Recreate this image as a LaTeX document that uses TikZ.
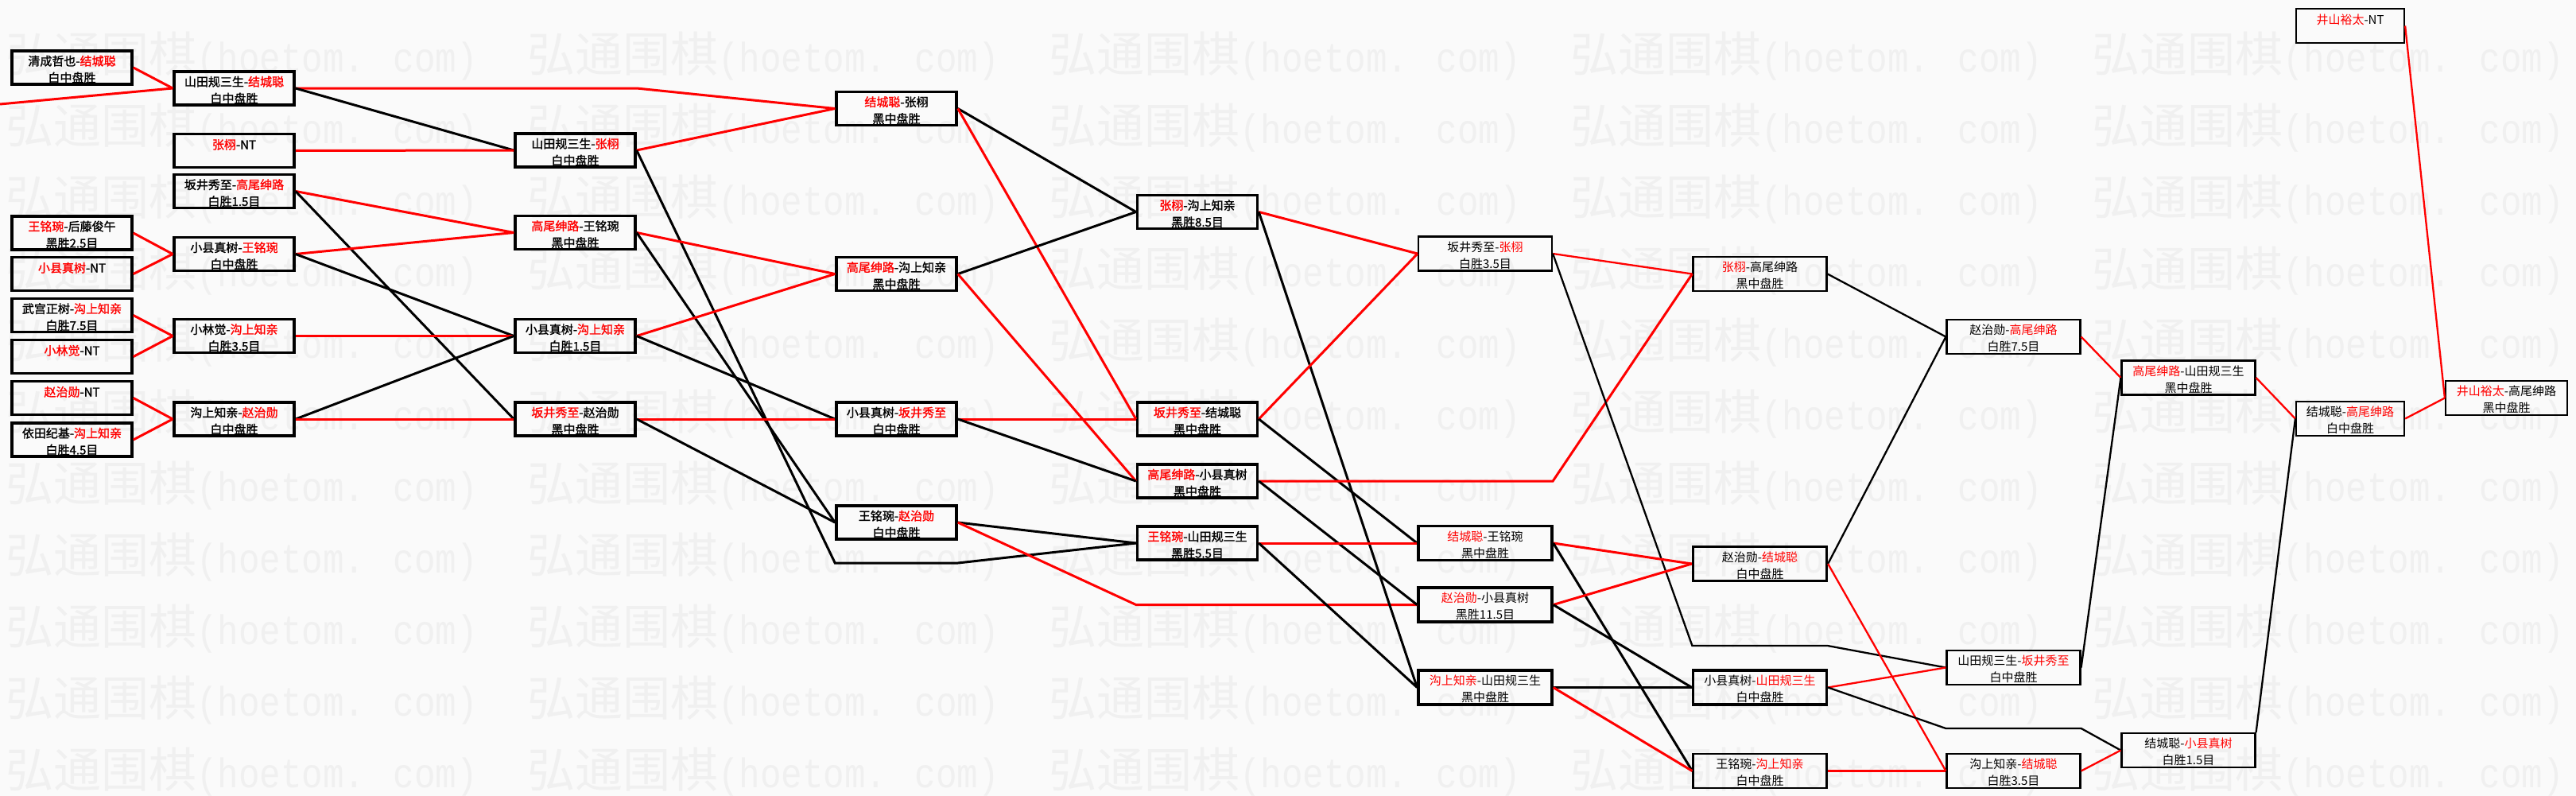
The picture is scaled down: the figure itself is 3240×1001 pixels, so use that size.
\documentclass[tikz,border=0pt]{standalone}
\usepackage{fontspec}
\setmainfont{Noto Sans CJK SC}
\newfontfamily\cjkbold[FakeBold=1.5]{Noto Sans CJK SC}
\newfontfamily\wmlatin[FakeStretch=0.85]{Liberation Mono}
\definecolor{bg}{HTML}{FAFAFA}
\definecolor{wmark}{HTML}{F0F0F0}
\newcommand{\wname}[1]{\textcolor{red}{#1}}
\newcommand{\mt}[2]{\rule{0pt}{17pt}#1\\#2}

\begin{document}
\begin{tikzpicture}[
  x=1pt, y=-1pt,
  box/.style={rectangle, draw, line width=3.5pt, align=center, inner sep=0pt, minimum width=151pt, minimum height=42pt, font=\cjkbold\fontsize{15}{21}\selectfont},
  lbox/.style={rectangle, draw, line width=2.2pt, align=center, inner sep=0pt, minimum width=168pt, minimum height=43pt, font=\fontsize{15}{21}\selectfont},
  win/.style={draw=red, line width=3pt},
  lose/.style={draw=black, line width=3pt},
  thin/.style={line width=2.3pt},
  wm/.style={anchor=base west, inner sep=0pt, text=wmark}
]
\useasboundingbox (0,0) rectangle (3240,1001);
\fill[bg] (0,0) rectangle (3240,1001);
\begin{scope}
\clip (0,0) rectangle (3240,1001);
\foreach \r in {0,...,10}
  \foreach \c in {0,...,4}
    \node[wm] (wm-\r-\c) at (7+656*\c, 90+90*\r) {\fontsize{60}{60}\selectfont 弘通围棋\wmlatin\fontsize{52}{52}\selectfont(hoetom. com)};
\end{scope}

\node[box] (c0a) at (90.5,85) {\mt{清成哲也-\wname{结城聪}}{白中盘胜}};
\node[box] (c0b) at (90.5,293) {\mt{\wname{王铭琬}-后藤俊午}{黑胜2.5目}};
\node[box] (c0c) at (90.5,344.5) {\mt{\wname{小县真树}-NT}{\mbox{}}};
\node[box] (c0d) at (90.5,396.5) {\mt{武宫正树-\wname{沟上知亲}}{白胜7.5目}};
\node[box] (c0e) at (90.5,448.5) {\mt{\wname{小林觉}-NT}{\mbox{}}};
\node[box] (c0f) at (90.5,500.5) {\mt{\wname{赵治勋}-NT}{\mbox{}}};
\node[box] (c0g) at (90.5,553) {\mt{依田纪基-\wname{沟上知亲}}{白胜4.5目}};

\node[box] (c1a) at (294.5,111) {\mt{山田规三生-\wname{结城聪}}{白中盘胜}};
\node[box] (c1b) at (294.5,189.5) {\mt{\wname{张栩}-NT}{\mbox{}}};
\node[box] (c1c) at (294.5,240.5) {\mt{坂井秀至-\wname{高尾绅路}}{白胜1.5目}};
\node[box] (c1d) at (294.5,319.5) {\mt{小县真树-\wname{王铭琬}}{白中盘胜}};
\node[box] (c1e) at (294.5,422.5) {\mt{小林觉-\wname{沟上知亲}}{白胜3.5目}};
\node[box] (c1f) at (294.5,527) {\mt{沟上知亲-\wname{赵治勋}}{白中盘胜}};

\node[box] (c2a) at (723.5,189) {\mt{山田规三生-\wname{张栩}}{白中盘胜}};
\node[box] (c2b) at (723.5,292.5) {\mt{\wname{高尾绅路}-王铭琬}{黑中盘胜}};
\node[box] (c2c) at (723.5,422.5) {\mt{小县真树-\wname{沟上知亲}}{白胜1.5目}};
\node[box] (c2d) at (723.5,527) {\mt{\wname{坂井秀至}-赵治勋}{黑中盘胜}};

\node[box] (c3a) at (1127.5,136.5) {\mt{\wname{结城聪}-张栩}{黑中盘胜}};
\node[box] (c3b) at (1127.5,344.5) {\mt{\wname{高尾绅路}-沟上知亲}{黑中盘胜}};
\node[box] (c3c) at (1127.5,527) {\mt{小县真树-\wname{坂井秀至}}{白中盘胜}};
\node[box] (c3d) at (1127.5,657) {\mt{王铭琬-\wname{赵治勋}}{白中盘胜}};

\node[box] (c4a) at (1506,266.5) {\mt{\wname{张栩}-沟上知亲}{黑胜8.5目}};
\node[box] (c4b) at (1506,527) {\mt{\wname{坂井秀至}-结城聪}{黑中盘胜}};
\node[box] (c4c) at (1506,605) {\mt{\wname{高尾绅路}-小县真树}{黑中盘胜}};
\node[box] (c4d) at (1506,683) {\mt{\wname{王铭琬}-山田规三生}{黑胜5.5目}};

\node[lbox] (c5a) at (1868,319) {\mt{坂井秀至-\wname{张栩}}{白胜3.5目}};
\node[lbox, line width=3.3pt] (c5b) at (1868,683) {\mt{\wname{结城聪}-王铭琬}{黑中盘胜}};
\node[lbox, line width=3.3pt] (c5c) at (1868,760.5) {\mt{\wname{赵治勋}-小县真树}{黑胜11.5目}};
\node[lbox, line width=3.3pt] (c5d) at (1868,864.5) {\mt{\wname{沟上知亲}-山田规三生}{黑中盘胜}};

\node[lbox] (c6a) at (2213.5,344.5) {\mt{\wname{张栩}-高尾绅路}{黑中盘胜}};
\node[lbox, line width=3.3pt] (c6b) at (2213.5,709) {\mt{赵治勋-\wname{结城聪}}{白中盘胜}};
\node[lbox, line width=3.3pt] (c6c) at (2213.5,864.5) {\mt{小县真树-\wname{山田规三生}}{白中盘胜}};
\node[lbox] (c6d) at (2213.5,969.5) {\mt{王铭琬-\wname{沟上知亲}}{白中盘胜}};

\node[lbox] (c7a) at (2532.5,423.5) {\mt{赵治勋-\wname{高尾绅路}}{白胜7.5目}};
\node[lbox] (c7b) at (2532.5,839.5) {\mt{山田规三生-\wname{坂井秀至}}{白中盘胜}};
\node[lbox] (c7c) at (2532.5,969.5) {\mt{沟上知亲-\wname{结城聪}}{白胜3.5目}};

\node[lbox] (c8a) at (2752.5,475) {\mt{\wname{高尾绅路}-山田规三生}{黑中盘胜}};
\node[lbox] (c8b) at (2752.5,943.5) {\mt{结城聪-\wname{小县真树}}{白胜1.5目}};

\node[lbox, minimum width=136pt] (c9a) at (2956,32.5) {\mt{\wname{井山裕太}-NT}{\mbox{}}};
\node[lbox, minimum width=136pt] (c9b) at (2956,526.5) {\mt{结城聪-\wname{高尾绅路}}{白中盘胜}};

\node[lbox, minimum width=153pt] (c10) at (3152.5,500.5) {\mt{\wname{井山裕太}-高尾绅路}{黑中盘胜}};

\coordinate (entry) at (0,131);
\draw[win] (c0a.east) -- (c1a.west);
\draw[win] (entry) -- (c1a.west);
\draw[win] (c0b.east) -- (c1d.west);
\draw[win] (c0c.east) -- (c1d.west);
\draw[win] (c0d.east) -- (c1e.west);
\draw[win] (c0e.east) -- (c1e.west);
\draw[win] (c0f.east) -- (c1f.west);
\draw[win] (c0g.east) -- (c1f.west);

\draw[win] (c1a.east) -- (c2a.east |- c1a.east) -- (c3a.west);
\draw[lose] (c1a.east) -- (c2a.west);
\draw[win] (c1b.east) -- (c2a.west);
\draw[win] (c1c.east) -- (c2b.west);
\draw[lose] (c1c.east) -- (c2d.west);
\draw[win] (c1d.east) -- (c2b.west);
\draw[lose] (c1d.east) -- (c2c.west);
\draw[win] (c1e.east) -- (c2c.west);
\draw[lose] (c1f.east) -- (c2c.west);
\draw[win] (c1f.east) -- (c2d.west);

\draw[win] (c2a.east) -- (c3a.west);
\draw[lose] (c2a.east) -- (c3d.west |- 0,708) -- (c3d.east |- 0,708) -- (c4d.west);
\draw[win] (c2b.east) -- (c3b.west);
\draw[lose] (c2b.east) -- (c3d.west);
\draw[win] (c2c.east) -- (c3b.west);
\draw[lose] (c2c.east) -- (c3c.west);
\draw[win] (c2d.east) -- (c3c.west);
\draw[lose] (c2d.east) -- (c3d.west);

\draw[lose] (c3a.east) -- (c4a.west);
\draw[win] (c3a.east) -- (c4b.west);
\draw[lose] (c3b.east) -- (c4a.west);
\draw[win] (c3b.east) -- (c4c.west);
\draw[win] (c3c.east) -- (c4b.west);
\draw[lose] (c3c.east) -- (c4c.west);
\draw[lose] (c3d.east) -- (c4d.west);
\draw[win] (c3d.east) -- (c4d.west |- c5c.west) -- (c4d.east |- c5c.west) -- (c5c.west);

\draw[win] (c4a.east) -- (c5a.west);
\draw[lose] (c4a.east) -- (c5d.west);
\draw[win] (c4b.east) -- (c5a.west);
\draw[lose] (c4b.east) -- (c5b.west);
\draw[win] (c4c.east) -- (c5a.west |- c4c.east) -- (c5a.east |- c4c.east) -- (c6a.west);
\draw[lose] (c4c.east) -- (c5c.west);
\draw[win] (c4d.east) -- (c5b.west);
\draw[lose] (c4d.east) -- (c5d.west);

\draw[win, thin] (c5a.east) -- (c6a.west);
\draw[lose, thin] (c5a.east) -- (c6a.west |- 0,812) -- (c6a.east |- 0,812) -- (c7b.west);
\draw[win] (c5b.east) -- (c6b.west);
\draw[lose] (c5b.east) -- (c6d.west);
\draw[win] (c5c.east) -- (c6b.west);
\draw[lose] (c5c.east) -- (c6c.west);
\draw[lose] (c5d.east) -- (c6c.west);
\draw[win] (c5d.east) -- (c6d.west);

\draw[lose, thin] (c6a.east) -- (c7a.west);
\draw[lose, thin] (c6b.east) -- (c7a.west);
\draw[win, thin] (c6b.east) -- (c7c.west);
\draw[win, thin] (c6c.east) -- (c7b.west);
\draw[lose, thin] (c6c.east) -- (c7a.west |- 0,916) -- (c7a.east |- 0,916) -- (c8b.west);
\draw[win, thin] (c6d.east) -- (c7c.west);

\draw[win, thin] (c7a.east) -- (c8a.west);
\draw[lose, thin] (c7b.east) -- (c8a.west);
\draw[win, thin] (c7c.east) -- (c8b.west);

\draw[win, thin] (c8a.east) -- (c9b.west);
\draw[lose, thin] (c8b.north east) -- (c9b.west);

\draw[win, thin] (c9a.east) -- (c10.west);
\draw[win, thin] (c9b.east) -- (c10.west);
\end{tikzpicture}
\end{document}
